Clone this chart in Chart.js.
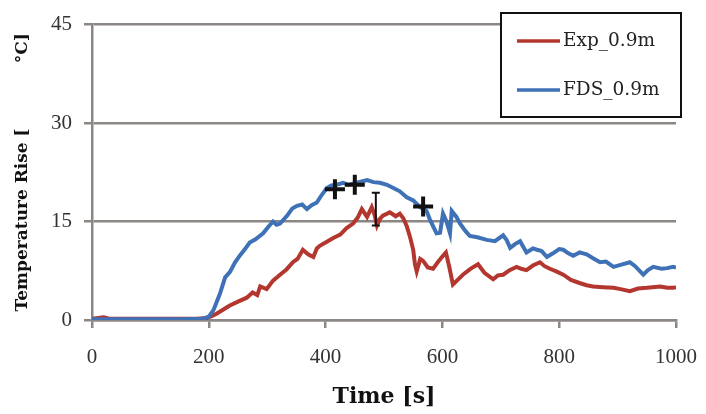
<!DOCTYPE html>
<html>
<head>
<meta charset="utf-8">
<script src="https://cdn.jsdelivr.net/npm/chart.js@4.4.1/dist/chart.umd.min.js"></script>
<style>
html,body{margin:0;padding:0;background:#fff;}
#wrap{width:706px;height:414px;position:relative;}
</style>
</head>
<body>
<div id="wrap"><canvas id="c" width="706" height="414"></canvas></div>
<script>
// ---- data ----
const seriesLabels = ['Exp_0.9m', 'FDS_0.9m'];
const xTicks = [0, 200, 400, 600, 800, 1000];
const yTicks = [0, 15, 30, 45];

const expTime = [0,20,30,100,180,196,205,214,225,236,250,265,275,283,288,299,310,322,333,344,352,361,370,379,385,390,400,413,425,436,447,455,462,471,479,484,488,493,498,510,520,527,533,539,545,550,553,556,562,567,575,584,592,601,606,612,618,627,635,648,661,672,687,695,704,715,727,735,744,755,767,775,784,795,807,820,836,847,858,875,893,905,921,935,950,960,973,985,995,1000];
const expTemp = [0.2,0.4,0.2,0.2,0.2,0.3,0.6,1.0,1.6,2.2,2.8,3.4,4.2,3.8,5.1,4.7,6.0,6.9,7.7,8.8,9.3,10.7,10.0,9.6,10.9,11.3,11.8,12.5,13.0,14.0,14.7,15.6,16.9,15.7,17.2,16.0,14.4,15.4,15.9,16.4,15.8,16.2,15.5,14.3,12.5,10.7,8.5,7.4,9.3,9.0,8.0,7.8,8.8,9.8,10.3,8.0,5.4,6.2,6.9,7.8,8.5,7.2,6.2,6.8,6.9,7.6,8.1,7.8,7.6,8.3,8.8,8.2,7.8,7.4,6.9,6.1,5.6,5.3,5.1,5.0,4.9,4.7,4.4,4.8,4.9,5.0,5.1,4.9,4.9,5.0];

const fdsTime = [0,50,100,150,190,200,208,219,228,236,245,253,262,270,280,293,302,310,316,322,335,343,351,360,368,376,385,393,402,410,419,430,440,453,462,471,482,493,505,516,527,539,550,562,573,579,590,596,601,607,613,616,624,630,640,647,660,676,690,704,710,716,725,733,744,755,762,770,779,790,800,807,815,824,835,847,858,870,880,893,905,921,930,944,952,961,975,985,995,1000];
const fdsTemp = [0.1,0.1,0.1,0.1,0.2,0.5,1.5,4.0,6.5,7.3,8.8,9.8,10.8,11.8,12.3,13.2,14.2,15.0,14.5,14.7,16.0,17.0,17.4,17.6,16.9,17.5,17.9,19.0,20.1,20.5,20.6,20.9,20.6,20.9,21.1,21.3,21.0,20.9,20.6,20.1,19.6,18.7,18.2,17.2,16.6,15.2,13.2,13.3,16.2,15.0,13.2,16.6,15.7,14.7,13.5,12.8,12.6,12.2,12.0,12.9,12.2,11.0,11.6,12.0,10.3,10.9,10.7,10.5,9.6,10.2,10.8,10.7,10.2,9.8,10.3,10.0,9.4,8.8,8.9,8.1,8.4,8.8,8.2,6.9,7.6,8.1,7.8,7.9,8.1,8.0];

// measurement markers (crosses) and error bar
const crossTime = [416, 450, 567];
const crossTemp = [19.9, 20.6, 17.3];
const errTime = [486];
const errLow = [14.4];
const errHigh = [19.4];

const seriesColors = ['#b3372f', '#3f71b7'];

function pts(xs, ys){ return xs.map((x,i)=>({x:x, y:ys[i]})); }

const errorBarPlugin = {
  id: 'errorBar',
  afterDatasetsDraw(chart){
    const {ctx, scales:{x, y}} = chart;
    ctx.save();
    ctx.strokeStyle = '#111';
    ctx.lineWidth = 2;
    errTime.forEach((t,i)=>{
      const px = x.getPixelForValue(t);
      const y1 = y.getPixelForValue(errLow[i]);
      const y2 = y.getPixelForValue(errHigh[i]);
      ctx.beginPath();
      ctx.moveTo(px, y1); ctx.lineTo(px, y2);
      ctx.moveTo(px-4, y1); ctx.lineTo(px+4, y1);
      ctx.moveTo(px-4, y2); ctx.lineTo(px+4, y2);
      ctx.stroke();
    });
    ctx.restore();
  }
};

const boxLegendPlugin = {
  id: 'boxLegend',
  afterDraw(chart){
    const ctx = chart.ctx;
    const L = 501, T = 13, R = 681, B = 117;
    ctx.save();
    ctx.fillStyle = '#fff';
    ctx.fillRect(L, T, R-L, B-T);
    ctx.strokeStyle = '#111';
    ctx.lineWidth = 2;
    ctx.strokeRect(L, T, R-L, B-T);
    ctx.font = '18.5px "DejaVu Serif"';
    ctx.textBaseline = 'middle';
    ctx.fillStyle = '#222';
    seriesLabels.forEach((lab, i)=>{
      const yy = 41 + i*49;
      ctx.strokeStyle = seriesColors[i];
      ctx.lineWidth = 3.5;
      ctx.beginPath(); ctx.moveTo(517, yy); ctx.lineTo(560, yy); ctx.stroke();
      ctx.fillText(lab, 563, yy);
    });
    ctx.restore();
  }
};

new Chart(document.getElementById('c'), {
  type: 'line',
  data: {
    datasets: [
      { label: seriesLabels[0], data: pts(expTime, expTemp), borderColor: seriesColors[0], borderWidth: 4, pointRadius: 0, tension: 0, order: 2 },
      { label: seriesLabels[1], data: pts(fdsTime, fdsTemp), borderColor: seriesColors[1], borderWidth: 4, pointRadius: 0, tension: 0, order: 1 },
      { type: 'scatter', label: 'markers', data: pts(crossTime, crossTemp), pointStyle: 'cross', pointRadius: 10, borderWidth: 4, borderColor: '#111', backgroundColor: '#111', showLine: false, order: 0 }
    ]
  },
  options: {
    responsive: false,
    animation: false,
    devicePixelRatio: 1,
    layout: { padding: { top: 14, right: 0, bottom: 0, left: 0 } },
    plugins: { legend: { display: false }, tooltip: { enabled: false } },
    scales: {
      x: {
        type: 'linear', min: 0, max: 1000,
        afterBuildTicks: s => { s.ticks = xTicks.map(v=>({value:v})); },
        afterFit: s => { s.height = 94; s.paddingRight = 30; s.paddingLeft = 0; },
        grid: { drawOnChartArea: false, drawTicks: true, tickLength: 8, color: '#8c8784', lineWidth: 2.5 },
        border: { display: true, color: '#8c8784', width: 2.5 },
        ticks: { font: { family: 'Liberation Serif', size: 21 }, color: '#333', padding: 17, maxRotation: 0, callback: v => String(v) },
        title: { display: true, text: 'Time [s]', font: { family: 'DejaVu Serif', size: 22, weight: 'bold' }, color: '#111', padding: { top: 0, bottom: 4 } }
      },
      y: {
        type: 'linear', min: 0, max: 45,
        afterBuildTicks: s => { s.ticks = yTicks.map(v=>({value:v})); },
        afterFit: s => { s.width = 92; },
        grid: { drawOnChartArea: true, drawTicks: true, tickLength: 8, color: '#8c8784', lineWidth: 2.5 },
        border: { display: true, color: '#8c8784', width: 2.5 },
        ticks: { font: { family: 'Liberation Serif', size: 21 }, color: '#333', padding: 12, callback: v => String(v) },
        title: { display: true, text: 'Temperature Rise [           °C]', font: { family: 'DejaVu Serif', size: 17, weight: 'bold' }, color: '#111', padding: { top: 12, bottom: 0 } }
      }
    }
  },
  plugins: [errorBarPlugin, boxLegendPlugin]
});
</script>
</body>
</html>
